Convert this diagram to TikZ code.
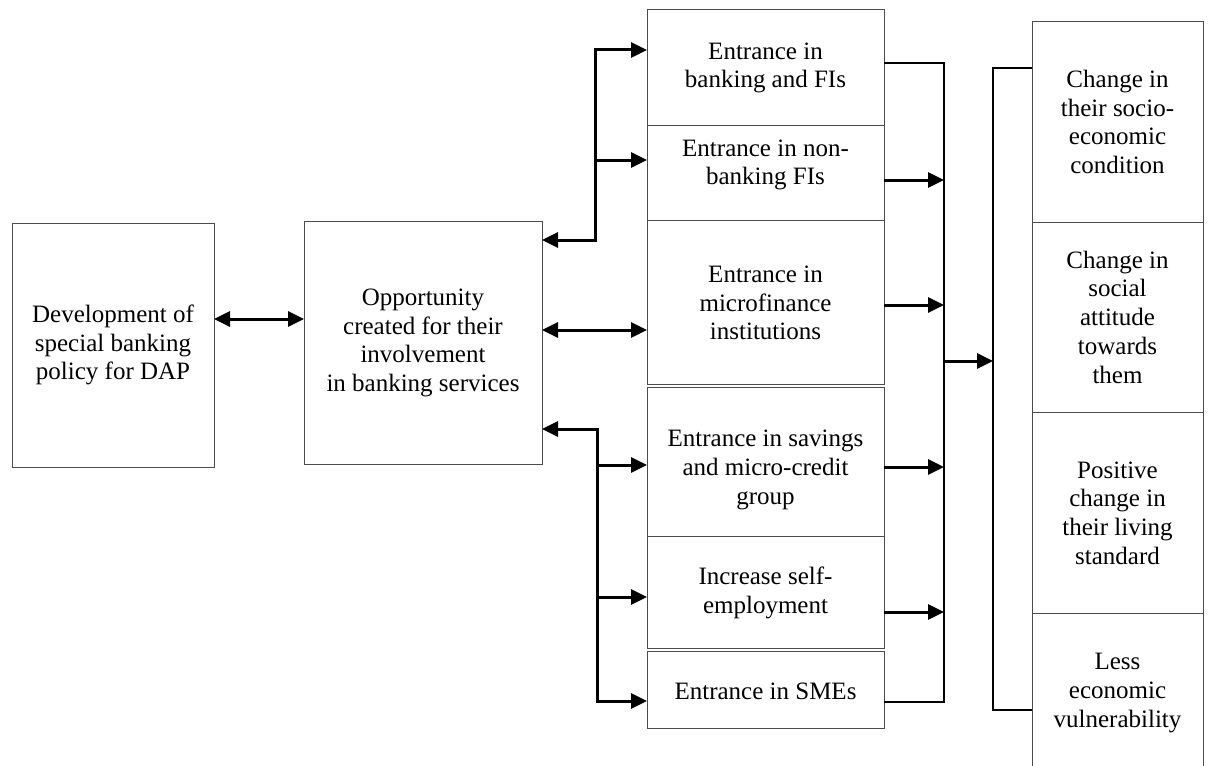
\documentclass[tikz,border=0pt]{standalone}
\usepackage{fontspec}
\setmainfont{Liberation Serif}
\usetikzlibrary{arrows.meta}
\begin{document}
\begin{tikzpicture}[x=1pt,y=-1pt,
  box/.style={draw=black!70, line width=1pt, inner sep=0pt, outer sep=0pt, rectangle},
  txt/.style={font=\fontsize{25}{28.75}\selectfont, align=center, inner sep=0pt},
  tip/.style={Triangle[length=16pt,width=15pt]},
  arr/.style={line width=3pt, -{Triangle[length=16pt,width=15pt]}},
  darr/.style={line width=3pt, {Triangle[length=16pt,width=15pt]}-{Triangle[length=16pt,width=15pt]}},
  brk/.style={line width=1.5pt}
]
\useasboundingbox (0,0) rectangle (1209,765);
\clip (0,0) rectangle (1209,765);

% left boxes
\node[box, minimum width=202pt, minimum height=244pt] (Dev) at (113,345) {};
\node[txt] (Devt) at (113,345) {Development of\\special banking\\policy for DAP};
\node[box, minimum width=238pt, minimum height=243pt] (Opp) at (423,342.5) {};
\node[txt] (Oppt) at (423,343) {Opportunity\\created for their\\involvement\\in banking services};

% middle column
\node[box, minimum width=237pt, minimum height=116pt] (B1) at (765.5,68) {};
\node[txt] (B1t) at (765.5,68) {Entrance in\\banking and FIs};
\node[box, minimum width=237pt, minimum height=94pt] (B2) at (765.5,173) {};
\node[txt] (B2t) at (765.5,165) {Entrance in non-\\banking FIs};
\node[box, minimum width=237pt, minimum height=164pt] (B3) at (765.5,302) {};
\node[txt] (B3t) at (765.5,303) {Entrance in\\microfinance\\institutions};
\node[box, minimum width=237pt, minimum height=149pt] (B4) at (765.5,461.5) {};
\node[txt] (B4t) at (765.5,470) {Entrance in savings\\and micro-credit\\group};
\node[box, minimum width=237pt, minimum height=112pt] (B5) at (765.5,592) {};
\node[txt] (B5t) at (765.5,593) {Increase self-\\employment};
\node[box, minimum width=237pt, minimum height=77pt] (B6) at (765.5,689.5) {};
\node[txt] (B6t) at (765.5,691) {Entrance in SMEs};

% right column
\node[box, minimum width=171pt, minimum height=200pt] (R1) at (1117.5,122) {};
\node[txt] (R1t) at (1117.5,122) {Change in\\their socio-\\economic\\condition};
\node[box, minimum width=171pt, minimum height=190pt] (R2) at (1117.5,317) {};
\node[txt] (R2t) at (1117.5,317) {Change in\\social\\attitude\\towards\\them};
\node[box, minimum width=171pt, minimum height=201pt] (R3) at (1117.5,512.5) {};
\node[txt] (R3t) at (1117.5,513) {Positive\\change in\\their living\\standard};
\node[box, minimum width=171pt, minimum height=167pt] (R4) at (1117.5,696.5) {};
\node[txt] (R4t) at (1117.5,693) {Less\\economic\\vulnerability};

% connectors on the left
\coordinate (busA) at (595,240);
\coordinate (busB) at (597,429);
\draw[darr] (Dev.east |- 0,319) -- (Opp.west |- 0,319);
\draw[darr] (Opp.east |- busA) -- (busA) |- (B1.west |- 0,50);
\draw[arr] (busA |- 0,160) -- (B2.west |- 0,160);
\draw[darr] (Opp.east |- 0,330) -- (B3.west |- 0,330);
\draw[darr] (Opp.east |- busB) -- (busB) |- (B6.west |- 0,701);
\draw[arr] (busB |- 0,465) -- (B4.west |- 0,465);
\draw[arr] (busB |- 0,597) -- (B5.west |- 0,597);

% first bracket
\coordinate (brA) at (944,63);
\coordinate (brB) at (944,702);
\draw[brk] (B1.east |- brA) -- (brA) -- (brB) -- (B6.east |- brB);
\draw[arr] (B2.east |- 0,180) -- (brA |- 0,180);
\draw[arr] (B3.east |- 0,305) -- (brA |- 0,305);
\draw[arr] (B4.east |- 0,467) -- (brA |- 0,467);
\draw[arr] (B5.east |- 0,612) -- (brA |- 0,612);

% second bracket
\coordinate (brC) at (993,68);
\coordinate (brD) at (993,710);
\draw[arr] (brA |- 0,361) -- (brC |- 0,361);
\draw[brk] (R1.west |- brC) -- (brC) -- (brD) -- (R4.west |- brD);
\end{tikzpicture}
\end{document}
